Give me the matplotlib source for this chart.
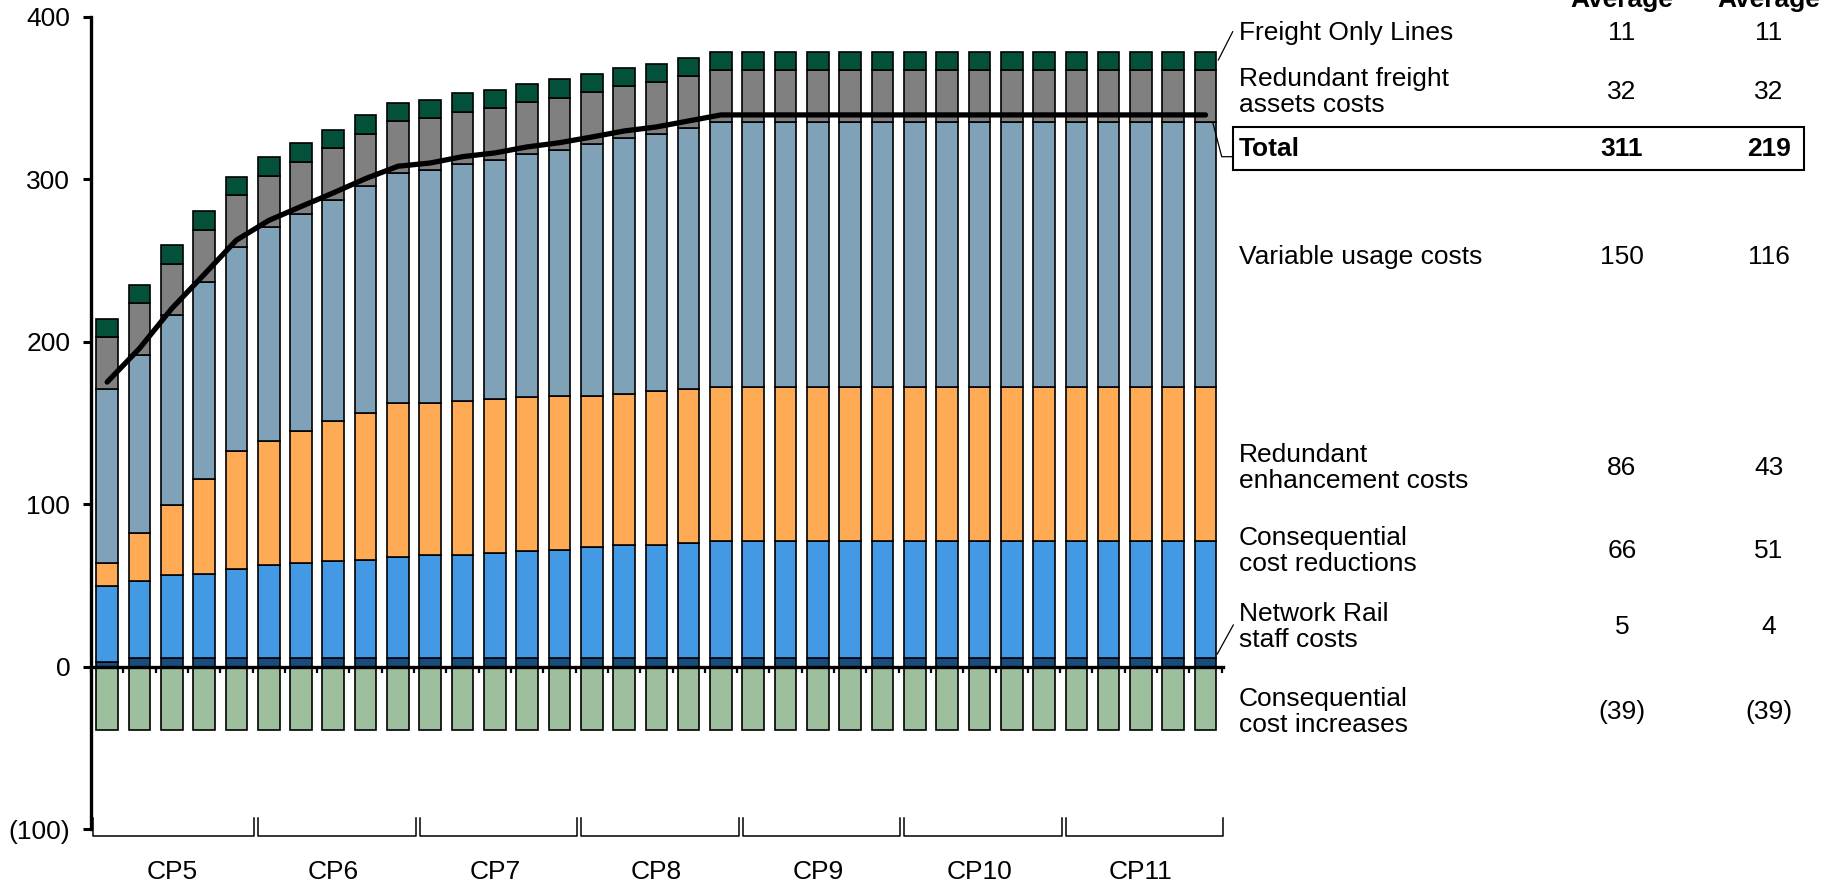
import numpy as np
import matplotlib
matplotlib.use('Agg')
import matplotlib.pyplot as plt
from matplotlib.lines import Line2D
from matplotlib.patches import Rectangle

plt.rcParams['font.family'] = ['Liberation Sans', 'DejaVu Sans']

# control periods, 5 years each
periods = ['CP5', 'CP6', 'CP7', 'CP8', 'CP9', 'CP10', 'CP11']

# stacked components per year (bottom -> top)
staff = [2.6, 5, 5, 5, 5,
         5, 5, 5, 5, 5,
         5, 5, 5, 5, 5,
         5, 5, 5, 5, 5,
         5, 5, 5, 5, 5,
         5, 5, 5, 5, 5,
         5, 5, 5, 5, 5]
reductions = [46.8, 47.5, 51.2, 52.2, 55.1,
              57.4, 58.8, 59.8, 60.8, 62.5,
              63.5, 63.7, 65.0, 66.0, 67.0,
              68.4, 69.7, 69.9, 71.1, 72.1,
              72.1, 72.1, 72.1, 72.1, 72.1,
              72.1, 72.1, 72.1, 72.1, 72.1,
              72.1, 72.1, 72.1, 72.1, 72.1]
enhancement = [14.4, 29.8, 43.3, 58.3, 72.4,
               76.3, 81.0, 86.2, 90.2, 94.7,
               93.7, 94.6, 94.7, 95.0, 94.8,
               93.4, 93.3, 94.5, 94.8, 94.8,
               94.8, 94.8, 94.8, 94.8, 94.8,
               94.8, 94.8, 94.8, 94.8, 94.8,
               94.8, 94.8, 94.8, 94.8, 94.8]
variable = [107.1, 109.3, 116.7, 121.6, 125.8,
            131.7, 134.2, 136.4, 140.2, 141.6,
            143.6, 146.4, 147.3, 149.7, 151.5,
            155.0, 157.5, 158.6, 160.8, 163.5,
            163.5, 163.5, 163.5, 163.5, 163.5,
            163.5, 163.5, 163.5, 163.5, 163.5,
            163.5, 163.5, 163.5, 163.5, 163.5]
freight_assets = [32, 32, 32, 32, 32,
                  32, 32, 32, 32, 32,
                  32, 32, 32, 32, 32,
                  32, 32, 32, 32, 32,
                  32, 32, 32, 32, 32,
                  32, 32, 32, 32, 32,
                  32, 32, 32, 32, 32]
freight_lines = [11.3, 11.3, 11.3, 11.3, 11.3,
                 11.3, 11.3, 11.3, 11.3, 11.3,
                 11.3, 11.3, 11.3, 11.3, 11.3,
                 11.3, 11.3, 11.3, 11.3, 11.3,
                 11.3, 11.3, 11.3, 11.3, 11.3,
                 11.3, 11.3, 11.3, 11.3, 11.3,
                 11.3, 11.3, 11.3, 11.3, 11.3]
increases = [-39, -39, -39, -39, -39,
             -39, -39, -39, -39, -39,
             -39, -39, -39, -39, -39,
             -39, -39, -39, -39, -39,
             -39, -39, -39, -39, -39,
             -39, -39, -39, -39, -39,
             -39, -39, -39, -39, -39]

# table on the right
row_labels = ['Freight Only Lines', 'Redundant freight\nassets costs', 'Total',
              'Variable usage costs', 'Redundant\nenhancement costs',
              'Consequential\ncost reductions', 'Network Rail\nstaff costs',
              'Consequential\ncost increases']
col1 = ['11', '32', '311', '150', '86', '66', '5', '(39)']
col2 = ['11', '32', '219', '116', '43', '51', '4', '(39)']
row_y = [33, 92, 149, 257, 468, 551, 627, 712]  # px from top

ytick_vals = [-100, 0, 100, 200, 300, 400]
ytick_labels = ['(100)', '0', '100', '200', '300', '400']

W, H = 1841, 886
fig = plt.figure(figsize=(W / 100, H / 100), dpi=100)
ax = fig.add_axes([91 / W, 1 - 829 / H, (1223 - 91) / W, (829 - 17) / H])

n = len(staff)
x = np.arange(n)
bw = 0.67
stack = [(staff, '#174C7C'), (reductions, '#4499E5'), (enhancement, '#FFAA55'),
         (variable, '#80A2B8'), (freight_assets, '#808080'), (freight_lines, '#03513B')]
bottom = np.zeros(n)
for vals, col in stack:
    ax.bar(x, vals, bw, bottom=bottom, color=col, edgecolor='black', linewidth=1.2, zorder=2)
    bottom = bottom + np.array(vals)
ax.bar(x, increases, bw, color='#9DBF9D', edgecolor='black', linewidth=1.2, zorder=2)

net = bottom + np.array(increases)
ax.plot(x, net, color='black', lw=3.8, solid_capstyle='round', solid_joinstyle='round', zorder=4)

ax.set_xlim(-0.45, 34.54)
ax.set_ylim(-100, 400)
for s in ['top', 'right']:
    ax.spines[s].set_visible(False)
ax.spines['left'].set_linewidth(2.4)
ax.spines['bottom'].set_position(('data', 0))
ax.spines['bottom'].set_linewidth(2.4)
ax.spines['bottom'].set_zorder(3)

ax.set_yticks(ytick_vals)
ax.set_yticklabels(ytick_labels)
ax.tick_params(axis='y', length=6, width=2.2, labelsize=19, pad=9)
ax.set_xticks(np.arange(n + 1) - 0.5)
ax.set_xticklabels([])
ax.tick_params(axis='x', length=4.5, width=1.6, direction='out')

# period brackets under the axis
for i, p in enumerate(periods):
    x0 = i * 5 - 0.5 + (0.07 if i == 0 else 0.17)
    x1 = i * 5 + 4.5 + 0.05
    ax.plot([x0, x0, x1, x1], [-93.4, -104.3, -104.3, -93.4], color='black',
            lw=1.1, clip_on=False)
    ax.text(i * 5 + 2, -126.5, p, ha='center', va='center', fontsize=19)


def fx(px):
    return px / W


def fy(py):
    return 1 - py / H


# table
for i, lab in enumerate(row_labels):
    bold = 'bold' if lab == 'Total' else 'normal'
    fig.text(fx(1239), fy(row_y[i]), lab, ha='left', va='center', fontsize=19,
             fontweight=bold, linespacing=1.12)
    fig.text(fx(1622), fy(row_y[i]), col1[i], ha='center', va='center', fontsize=19,
             fontweight=bold)
    fig.text(fx(1769), fy(row_y[i]), col2[i], ha='center', va='center', fontsize=19,
             fontweight=bold)
for cx in [1622, 1769]:
    fig.text(fx(cx), fy(7), 'Average', ha='center', va='baseline', fontsize=19,
             fontweight='bold')

fig.patches.append(Rectangle((fx(1232.7), fy(170)), (1804 - 1232.7) / W, 42.7 / H,
                             transform=fig.transFigure, fill=False, lw=1.5,
                             edgecolor='black'))

# leader lines
leaders = [([1218.3, 1232.7], [60, 31.7]),
           ([1213, 1221.7, 1231.7], [123.3, 156.7, 156.7]),
           ([1217.3, 1233.3], [654, 625])]
for lx, ly in leaders:
    fig.add_artist(Line2D([fx(v) for v in lx], [fy(v) for v in ly], color='black',
                          lw=0.9, transform=fig.transFigure))

fig.savefig('out.png', dpi=100)
